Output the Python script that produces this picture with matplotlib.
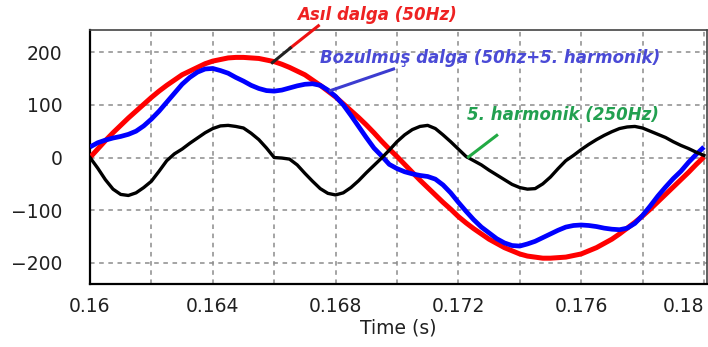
import numpy as np
import matplotlib
matplotlib.use("Agg")
import matplotlib.pyplot as plt
from matplotlib.ticker import MultipleLocator

# time axis (s), one reading every 0.25 ms
t = np.round(np.arange(0.16, 0.180001, 0.00025), 5)

# fundamental 50 Hz (red)
asil = [0, 16, 32, 47, 61, 75, 88, 101, 114, 126, 137, 147, 157, 164, 171, 178, 183, 186, 189, 190, 190,
        189, 188, 185, 182, 177, 171, 164, 157, 147, 137, 126, 115, 102, 89, 76, 62, 47, 31, 16, 2,
        -13, -28, -43, -57, -71, -85, -98, -112, -124, -135, -145, -155, -163, -171, -177, -183, -187, -189, -191, -191,
        -190, -189, -186, -183, -177, -171, -163, -155, -145, -134, -123, -111, -98, -84, -70, -56, -42, -28, -13, 1]

# harmonic (black)
harmonik = [0, -20, -42, -60, -70, -72, -67, -57, -45, -26, -6, 7, 16, 27, 37, 47, 55, 60, 61, 59, 56,
            46, 34, 18, 0, -1, -3, -14, -30, -45, -59, -68, -71, -67, -57, -44, -29, -15, -1, 14, 30,
            43, 53, 59, 61, 55, 43, 30, 16, 2, -6, -14, -24, -33, -42, -51, -57, -60, -59, -50, -37,
            -21, -6, 4, 15, 25, 34, 42, 49, 55, 58, 59, 56, 50, 44, 38, 30, 23, 17, 10, 4]

# distorted wave (blue)
bozulmus = [20, 28, 33, 37, 40, 44, 50, 60, 73, 88, 105, 122, 139, 152, 162, 168, 169, 165, 160, 152, 145,
            137, 131, 127, 126, 128, 132, 136, 139, 140, 137, 128, 116, 100, 80, 59, 38, 18, 3, -13, -21,
            -27, -31, -34, -36, -41, -52, -67, -85, -102, -118, -132, -143, -154, -162, -167, -168, -164, -159, -152, -145,
            -138, -132, -129, -128, -129, -131, -134, -136, -137, -134, -125, -110, -92, -73, -56, -40, -26, -9, 6, 20]

x_ticks = [0.16, 0.164, 0.168, 0.172, 0.176, 0.18]
x_labels = ["0.16", "0.164", "0.168", "0.172", "0.176", "0.18"]
y_ticks = [-200, -100, 0, 100, 200]

fig = plt.figure(figsize=(7.08, 3.47), dpi=100)
ax = fig.add_axes([90 / 708, 63 / 347, 617 / 708, 254 / 347])

ax.plot(t, asil, color="#ff0000", lw=3.6, solid_capstyle="butt", zorder=3)
ax.plot(t, bozulmus, color="#0000ff", lw=3.4, solid_capstyle="butt", zorder=4)
ax.plot(t, harmonik, color="black", lw=2.4, zorder=5)

ax.set_xlim(0.16, 0.1801)
ax.set_ylim(-240, 242)
ax.set_xticks(x_ticks)
ax.set_xticklabels(x_labels)
ax.xaxis.set_minor_locator(MultipleLocator(0.002))
ax.set_yticks(y_ticks)

ax.grid(True, which="both", axis="x", color="#8c8c8c", ls=(0, (3, 3)), lw=1.1)
ax.grid(True, which="major", axis="y", color="#8c8c8c", ls=(0, (3, 3)), lw=1.1)
ax.set_axisbelow(True)

ax.tick_params(which="both", length=0, labelsize=13.5, labelcolor="#202020")
ax.tick_params(axis="x", pad=9)
ax.tick_params(axis="y", pad=20)
ax.get_xticklabels()[-1].set_horizontalalignment("right")
ax.set_xlabel("Time (s)", fontsize=13.5, color="#202020", labelpad=2)

for side in ["left", "bottom"]:
    ax.spines[side].set_color("black")
    ax.spines[side].set_linewidth(1.6)
for side in ["top", "right"]:
    ax.spines[side].set_color("#444444")
    ax.spines[side].set_linewidth(1.2)

font = dict(fontsize=12, fontweight="bold", fontstyle="italic", family="DejaVu Sans")

# labels with leader lines
ax.text(0.16675, 271, "Asıl dalga (50Hz)", color="#ee2222", va="center", ha="left",
        clip_on=False, **font)
ax.plot([0.16653, 0.16744], [208, 250], color="#ee1111", lw=2.2, clip_on=False, zorder=6)
ax.plot([0.16594, 0.16653], [180, 208], color="#222222", lw=2.2, clip_on=False, zorder=6)

ax.text(0.1675, 189, "Bozulmuş dalga (50hz+5. harmonik)", color="#4a4ad6", va="center",
        ha="left", **font)
ax.plot([0.16783, 0.16989], [127, 168], color="#3c3cd0", lw=2.2, zorder=6)

ax.text(0.17229, 80, "5. harmonik (250Hz)", color="#22a050", va="center", ha="left", **font)
ax.plot([0.17233, 0.17325], [1, 42], color="#22aa44", lw=2.2, zorder=6)

fig.savefig("out.png", dpi=100)
